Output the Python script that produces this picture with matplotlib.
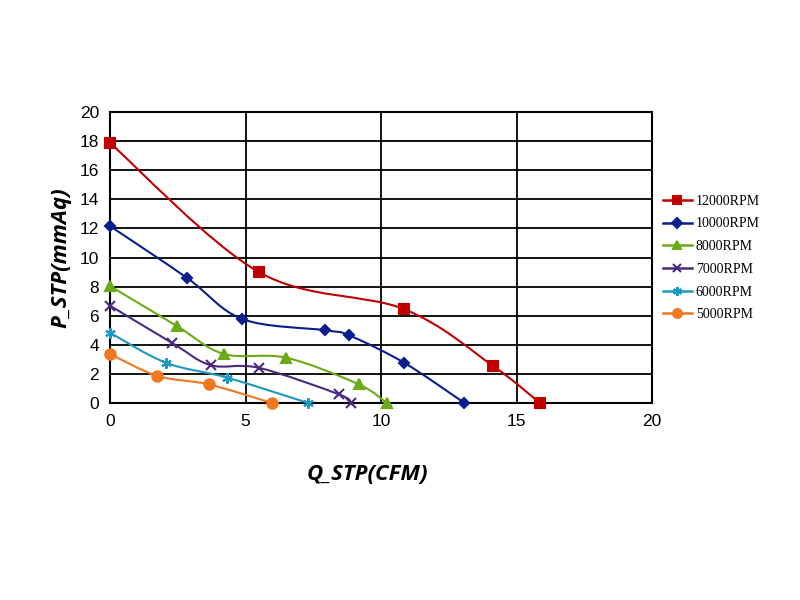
import matplotlib
matplotlib.use("Agg")
import matplotlib.pyplot as plt
from matplotlib.path import Path
from matplotlib.patches import PathPatch
from matplotlib.lines import Line2D

# fan curves
labels = ["12000RPM", "10000RPM", "8000RPM", "7000RPM", "6000RPM", "5000RPM"]
q_12000 = [0, 5.49, 10.84, 14.14, 15.86]
p_12000 = [17.87, 9.0, 6.46, 2.54, 0]
q_10000 = [0, 2.84, 4.88, 7.93, 8.82, 10.85, 13.08]
p_10000 = [12.16, 8.6, 5.77, 5.0, 4.65, 2.77, 0]
q_8000 = [0, 2.46, 4.2, 6.51, 9.18, 10.21]
p_8000 = [8.04, 5.3, 3.37, 3.11, 1.28, 0]
q_7000 = [0, 2.28, 3.71, 5.49, 8.44, 8.89]
p_7000 = [6.69, 4.14, 2.6, 2.42, 0.6, 0]
q_6000 = [0, 2.06, 4.33, 7.32]
p_6000 = [4.83, 2.77, 1.74, 0]
q_5000 = [0, 1.75, 3.64, 5.98]
p_5000 = [3.37, 1.86, 1.28, 0]

xs = [q_12000, q_10000, q_8000, q_7000, q_6000, q_5000]
ys = [p_12000, p_10000, p_8000, p_7000, p_6000, p_5000]

colors = ["#C00000", "#0A1E8C", "#6CAB17", "#4A2A80", "#1E98C0", "#F07820"]
markers = ["s", "D", "^", "x", (6, 2, 0), "o"]
msizes = [6.5, 5.5, 7, 6.5, 7.5, 7.5]


def smooth_path(x, y, t=1 / 6):
    # excel-like smoothed line: cardinal spline as cubic bezier segments
    verts = [(x[0], y[0])]
    codes = [Path.MOVETO]
    n = len(x)
    for i in range(n - 1):
        x0, y0 = (x[i - 1], y[i - 1]) if i > 0 else (x[i], y[i])
        x3, y3 = (x[i + 2], y[i + 2]) if i + 2 < n else (x[i + 1], y[i + 1])
        c1 = (x[i] + (x[i + 1] - x0) * t, y[i] + (y[i + 1] - y0) * t)
        c2 = (x[i + 1] - (x3 - x[i]) * t, y[i + 1] - (y3 - y[i]) * t)
        verts += [c1, c2, (x[i + 1], y[i + 1])]
        codes += [Path.CURVE4] * 3
    return Path(verts, codes)


plt.rcParams["font.family"] = ["Liberation Sans", "DejaVu Sans"]

fig = plt.figure(figsize=(8, 6), dpi=100)
ax = fig.add_axes([110 / 800, 197 / 600, 542 / 800, 291 / 600])

handles = []
for x, y, c, m, ms, lab in zip(xs, ys, colors, markers, msizes, labels):
    ax.add_patch(PathPatch(smooth_path(x, y), facecolor="none", edgecolor=c,
                           lw=1.5, zorder=3, clip_on=False))
    ax.plot(x, y, linestyle="none", marker=m, color=c, markersize=ms,
            markeredgewidth=1.5, zorder=4, clip_on=False)
    handles.append(Line2D([], [], color=c, lw=1.8, marker=m, markersize=ms * 0.85,
                          markeredgewidth=1.5, label=lab))

ax.set_xlim(0, 20)
ax.set_ylim(0, 20)
ax.set_xticks([0, 5, 10, 15, 20])
ax.set_yticks(range(0, 21, 2))
ax.tick_params(length=0, labelsize=12.5, pad=8)
ax.xaxis.grid(True, color="black", lw=1.3)
ax.yaxis.grid(True, color="black", lw=1.3)
ax.set_axisbelow(True)
for s in ax.spines.values():
    s.set_linewidth(1.5)

fig.text(367 / 800, 1 - 475 / 600, "Q_STP(CFM)", ha="center", va="center",
         fontsize=16, fontweight="bold", fontstyle="italic", family="Open Sans")
fig.text(61 / 800, 1 - 258 / 600, "P_STP(mmAq)", ha="center", va="center",
         rotation=90, fontsize=16, fontweight="bold", fontstyle="italic",
         family="Open Sans")

leg = fig.legend(handles=handles, loc="center left",
                 bbox_to_anchor=(650 / 800, 1 - 258 / 600), frameon=False,
                 prop={"family": "Liberation Serif", "size": 10},
                 handlelength=2.1, handletextpad=0.3, labelspacing=0.7)

fig.savefig("out.png", dpi=100)
